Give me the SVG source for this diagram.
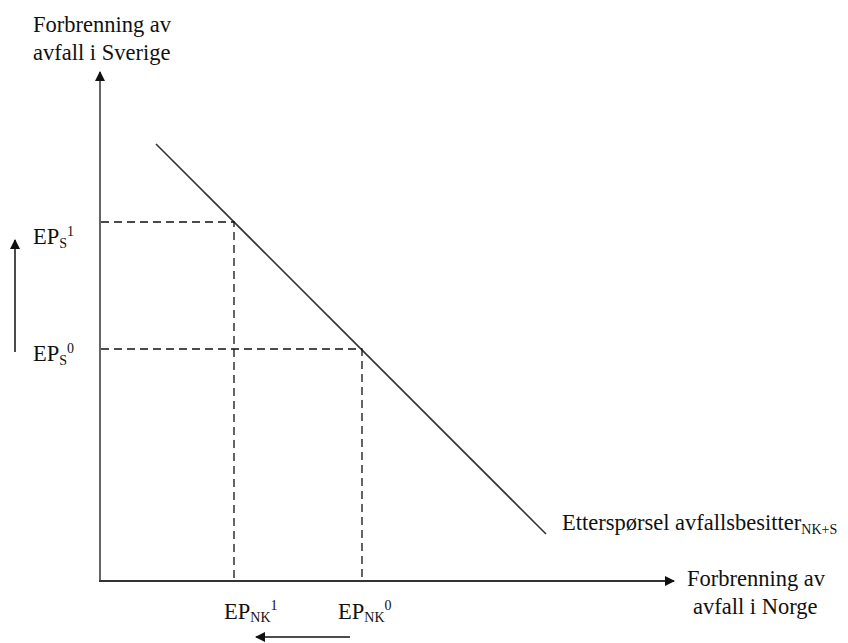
<svg xmlns="http://www.w3.org/2000/svg" width="848" height="643" viewBox="0 0 848 643">
  <style>
    text { font-family: "Liberation Serif", "Times New Roman", serif; font-size: 22.5px; fill: #111; }
    .sub { font-size: 14px; }
    .axis { stroke: #333; stroke-width: 2; fill: none; }
    .yaxis { stroke: #666; stroke-width: 2; fill: none; }
    .demand { stroke: #333; stroke-width: 1.6; fill: none; }
    .guide { stroke: #111; stroke-width: 1.3; stroke-dasharray: 8 5; fill: none; }
    .shift { stroke: #111; stroke-width: 1.5; fill: none; }
  </style>
  <defs>
    <marker id="head" viewBox="0 0 10 10" refX="9" refY="5" markerWidth="10" markerHeight="10" markerUnits="userSpaceOnUse" orient="auto">
      <path d="M0,0 L10,5 L0,10 z" fill="#111"/>
    </marker>
  </defs>

  <rect width="848" height="643" fill="#fff"/>

  <!-- axes -->
  <g id="axes">
    <line class="yaxis" x1="100" y1="581" x2="100" y2="72" marker-end="url(#head)"/>
    <line class="axis" x1="99" y1="581" x2="674" y2="581" marker-end="url(#head)"/>
  </g>

  <!-- demand curve and guide lines -->
  <g id="connectors">
    <line class="demand" x1="156" y1="144" x2="546" y2="534"/>
    <polyline class="guide" points="101,222 234,222 234,580"/>
    <polyline class="guide" points="101,349 362,349 362,580"/>
    <line class="shift" x1="15" y1="352" x2="15" y2="240" marker-end="url(#head)"/>
    <line class="shift" x1="350" y1="637" x2="256" y2="637" marker-end="url(#head)"/>
  </g>

  <!-- axis titles -->
  <g id="label-y">
    <text x="33" y="32">Forbrenning av</text>
    <text x="33" y="60">avfall i Sverige</text>
  </g>
  <g id="label-x">
    <text x="687" y="586">Forbrenning av</text>
    <text x="693" y="614">avfall i Norge</text>
  </g>

  <!-- price levels -->
  <g id="label-eps1">
    <text x="33" y="244">EP<tspan class="sub" dy="4">S</tspan><tspan class="sub" dy="-12">1</tspan></text>
  </g>
  <g id="label-eps0">
    <text x="33" y="361">EP<tspan class="sub" dy="4">S</tspan><tspan class="sub" dy="-12">0</tspan></text>
  </g>
  <g id="label-epnk1">
    <text x="224" y="619">EP<tspan class="sub" dy="3">NK</tspan><tspan class="sub" dy="-12">1</tspan></text>
  </g>
  <g id="label-epnk0">
    <text x="338" y="619">EP<tspan class="sub" dy="3">NK</tspan><tspan class="sub" dy="-12">0</tspan></text>
  </g>

  <!-- demand curve label -->
  <g id="label-demand">
    <text x="562" y="530">Etterspørsel avfallsbesitter<tspan class="sub" dy="4">NK+S</tspan></text>
  </g>
</svg>
